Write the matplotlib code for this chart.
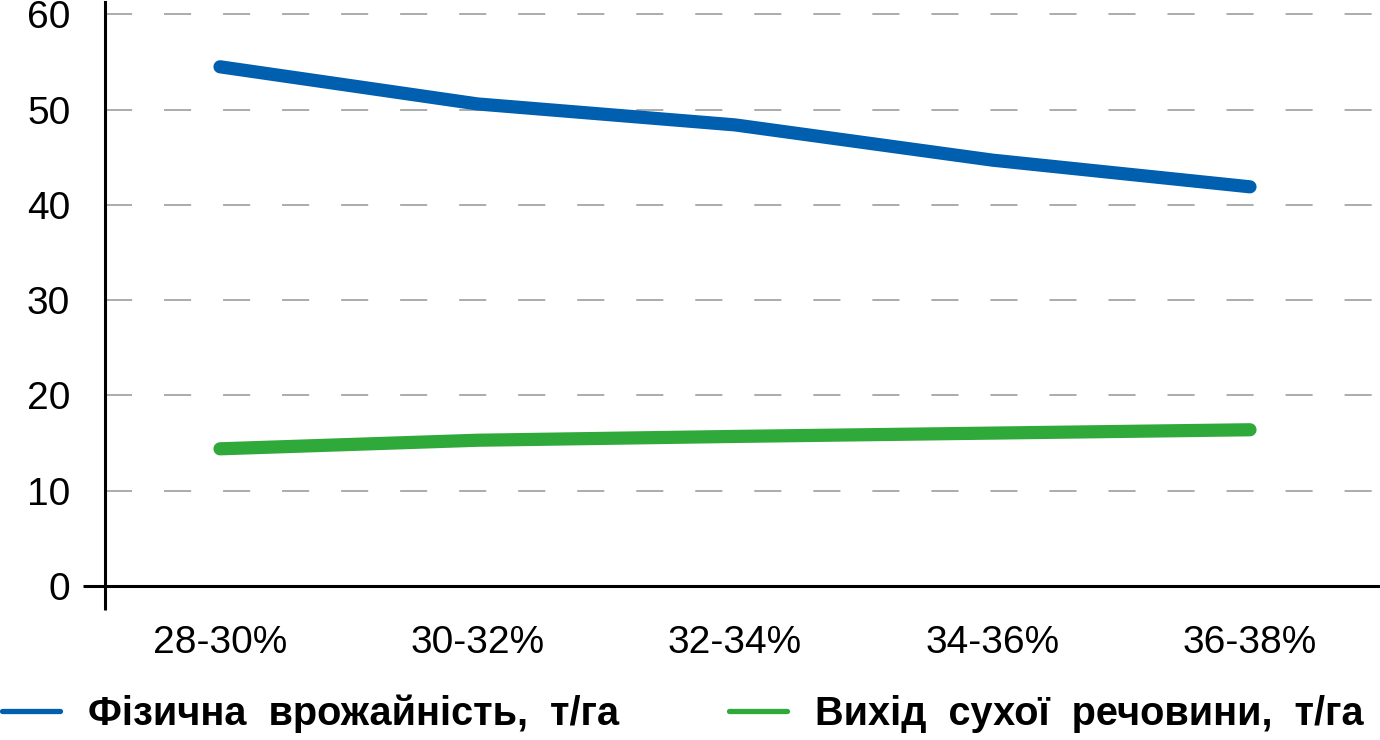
import matplotlib
matplotlib.use("Agg")
import matplotlib.pyplot as plt
from matplotlib.lines import Line2D

plt.rcParams['font.family'] = ['Liberation Sans', 'DejaVu Sans']
plt.rcParams['lines.scale_dashes'] = False

categories = ["28-30%", "30-32%", "32-34%", "34-36%", "36-38%"]
yield_phys = [54.5, 50.6, 48.4, 44.7, 41.9]
dry_matter = [14.4, 15.3, 15.7, 16.05, 16.4]
series_names = ["Фізична  врожайність,  т/га", "Вихід  сухої  речовини,  т/га"]
yticks = [0, 10, 20, 30, 40, 50, 60]

W, H = 1380, 740
fig = plt.figure(figsize=(W / 100, H / 100), dpi=100)
ax = fig.add_axes([105 / W, 154 / H, (1379 - 105) / W, (738 - 154) / H])

x = list(range(len(categories)))
blue = "#005FAF"
green = "#2FA93A"
ax.plot(x, yield_phys, color=blue, lw=9.5, solid_capstyle="round", solid_joinstyle="round", zorder=3)
ax.plot(x, dry_matter, color=green, lw=9.5, solid_capstyle="round", solid_joinstyle="round", zorder=3)

step = 257.5
ax.set_xlim((105 - 220) / step, (1379 - 220) / step)
ax.set_ylim(0, 61.3)
ax.set_xticks(x)
ax.set_xticklabels(categories)
ax.set_yticks(yticks)
ax.tick_params(axis="both", length=0, labelsize=28, colors="black")
ax.tick_params(axis="y", pad=25)
ax.tick_params(axis="x", pad=28)

for t in yticks[1:]:
    ax.axhline(t, color="#ababab", lw=1.4, linestyle=(0, (19.5, 23)), zorder=1)

for s in ["top", "right"]:
    ax.spines[s].set_visible(False)
for s in ["left", "bottom"]:
    ax.spines[s].set_linewidth(2.2)
    ax.spines[s].set_color("black")
ax.spines["left"].set_zorder(4)

# outward extensions at the origin
ax.plot([-22 / 1274, 0], [0, 0], transform=ax.transAxes, color="black", lw=2.2, clip_on=False, solid_capstyle="butt")
ax.plot([0, 0], [0, -24 / 584], transform=ax.transAxes, color="black", lw=2.2, clip_on=False, solid_capstyle="butt")

handles = [Line2D([], [], color=blue, lw=3.8, solid_capstyle="round"),
           Line2D([], [], color=green, lw=3.8, solid_capstyle="round")]
fig.legend(handles, series_names, loc="center left", bbox_to_anchor=(2 / W, 26 / H),
           ncol=2, frameon=False, prop={"weight": "bold", "size": 28.6},
           handlelength=1.46, handletextpad=0.705, columnspacing=2.77, borderaxespad=0, borderpad=0)

fig.savefig("out.png", dpi=100)
